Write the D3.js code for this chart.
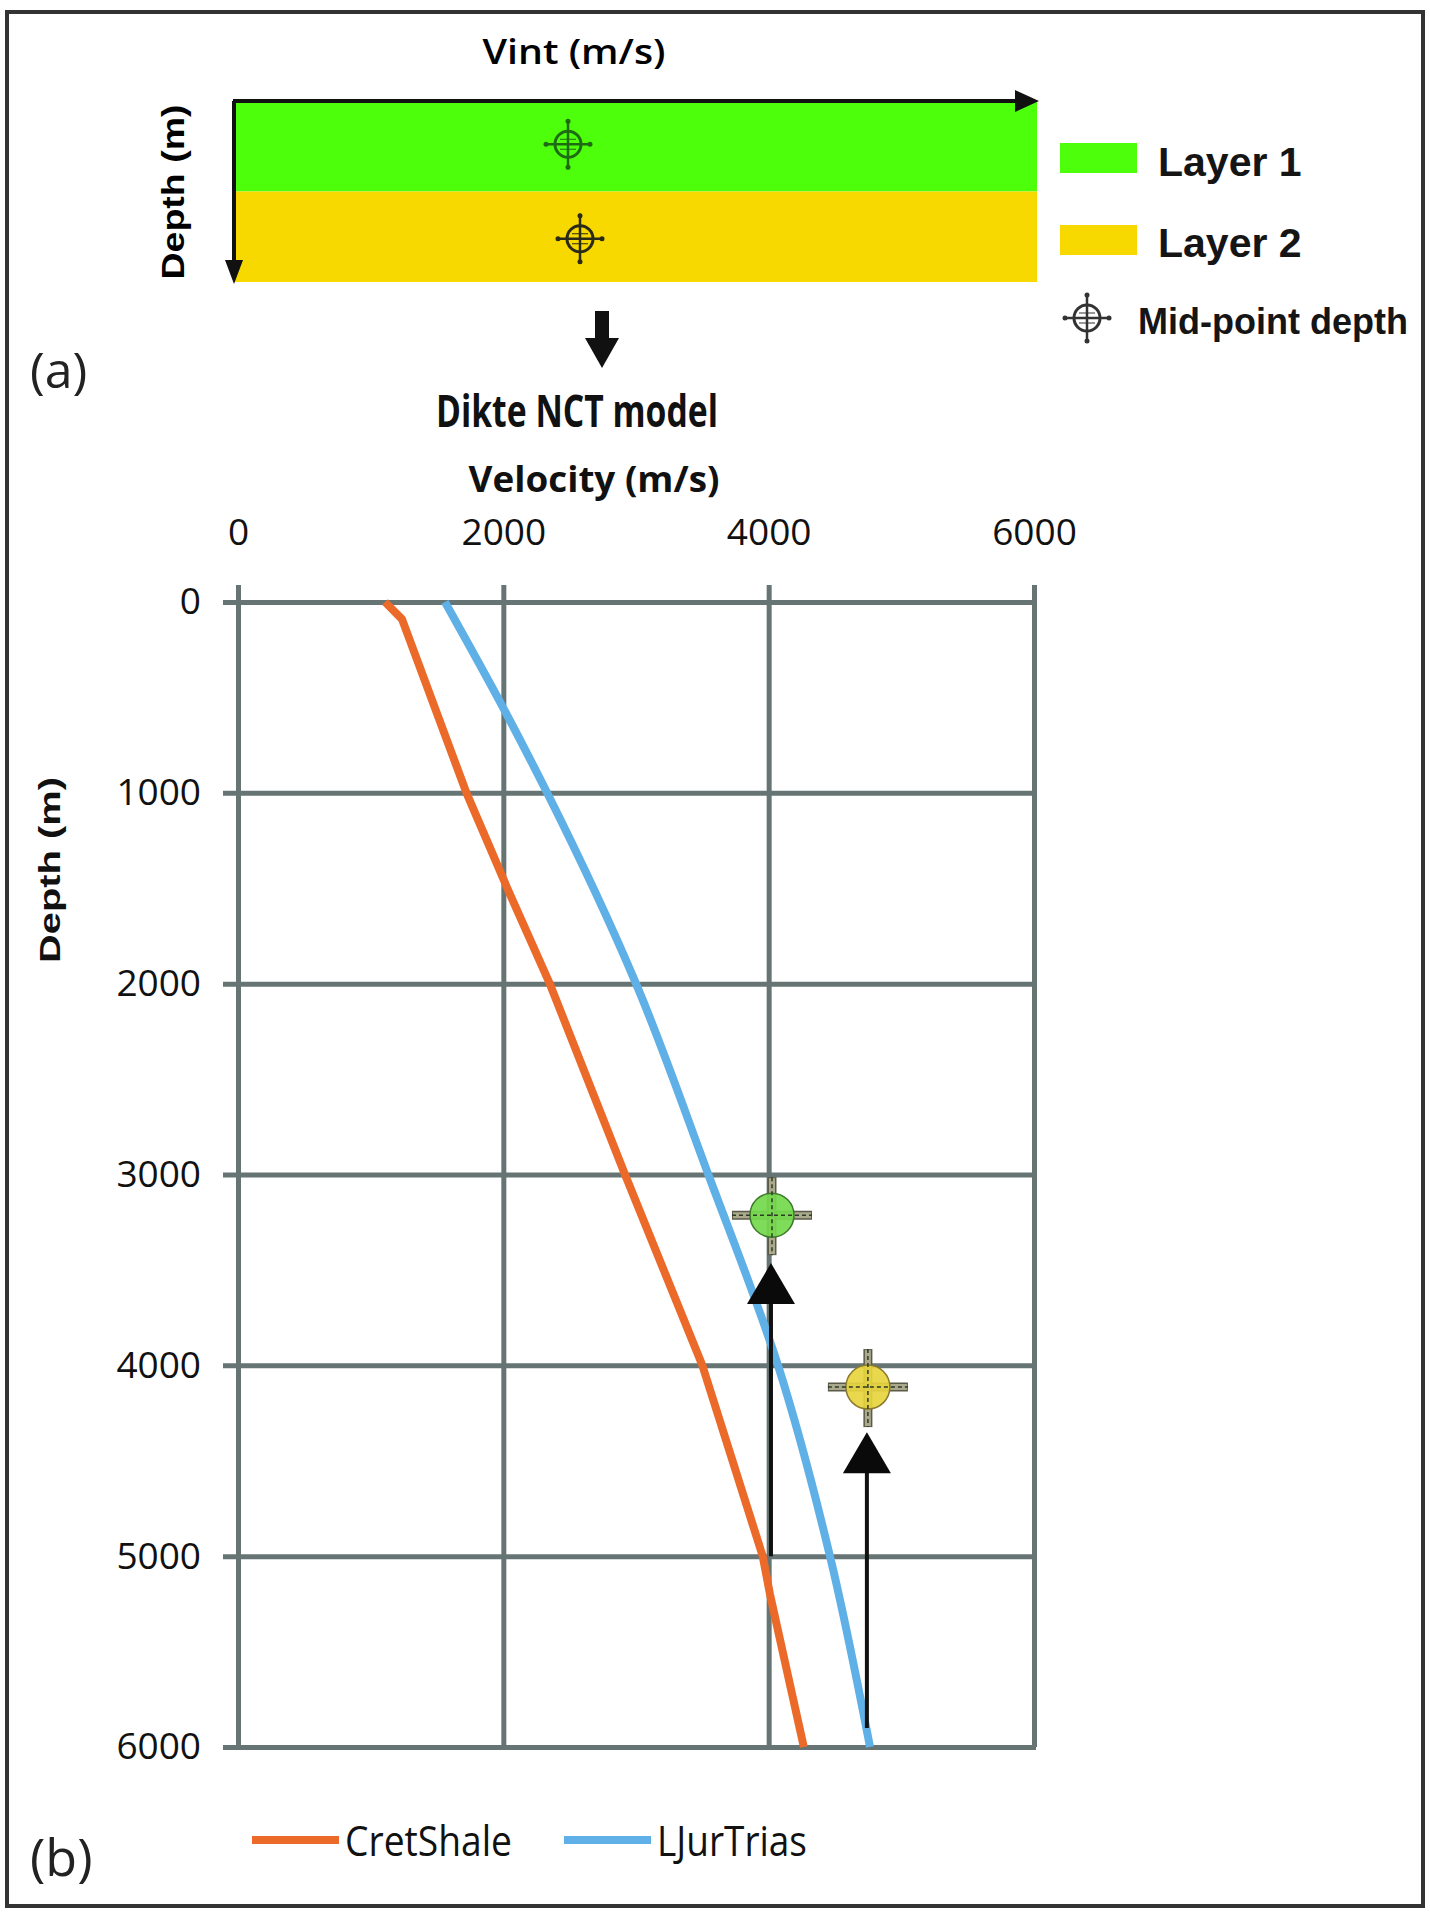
<!DOCTYPE html>
<html>
<head>
<meta charset="utf-8">
<script src="https://cdn.jsdelivr.net/npm/d3@7"></script>
<style>
  body { margin: 0; background: #fff; }
  svg { display: block; }
  .tick text { font-family: "Open Sans", sans-serif; font-size: 37px; fill: #111; }
</style>
</head>
<body>
<svg id="chart" width="1430" height="1912"></svg>
<script>
// ---- data ----
const velTicks = [0, 2000, 4000, 6000];
const depthTicks = [0, 1000, 2000, 3000, 4000, 5000, 6000];

const seriesNames = ['CretShale', 'LJurTrias'];
const cretDepth = [0, 90, 1000, 1500, 2000, 3000, 4000, 5000, 5200, 6000];
const cretVel = [1108, 1236, 1722, 2030, 2350, 2917, 3500, 3955, 4010, 4265];
const ljurDepth = [0, 556, 1000, 2000, 3000, 4000, 5000, 6000];
const ljurVel = [1560, 2000, 2330, 3000, 3545, 4070, 4462, 4764];

const layerNames = ['Layer 1', 'Layer 2'];
const midVel = [4025, 4748];
const midDepth = [3213, 4114];
const arrowFrom = [5000, 5900];
const arrowTo = [3464, 4350];

const COLORS = { green: '#4dff0a', yellow: '#f7d900', orange: '#eb6a2a', blue: '#5fb0e6', grid: '#667573' };

const svg = d3.select('#chart');

// frame
svg.append('rect')
  .attr('x', 7).attr('y', 12).attr('width', 1416).attr('height', 1894)
  .attr('fill', '#fff').attr('stroke', '#333').attr('stroke-width', 4);

// ================= (a) schematic =================
const panel = { left: 233, right: 1037, top: 101 };
const layerY = d3.scaleBand().domain(layerNames).range([101, 282]).padding(0);

svg.selectAll('.layer')
  .data(layerNames)
  .enter()
  .append('rect')
  .attr('class', 'layer')
  .attr('x', panel.left)
  .attr('y', d => layerY(d))
  .attr('width', panel.right - panel.left)
  .attr('height', layerY.bandwidth())
  .attr('fill', (d, i) => (i === 0 ? COLORS.green : COLORS.yellow));

// axes arrows of the schematic
svg.append('line')
  .attr('x1', panel.left).attr('x2', panel.right - 22)
  .attr('y1', panel.top).attr('y2', panel.top)
  .attr('stroke', '#111').attr('stroke-width', 4);
svg.append('path')
  .attr('d', `M${panel.right + 2},${panel.top} L${panel.right - 22},${panel.top - 11} L${panel.right - 22},${panel.top + 11} Z`)
  .attr('fill', '#111');
svg.append('line')
  .attr('x1', panel.left + 1).attr('x2', panel.left + 1)
  .attr('y1', panel.top).attr('y2', 262)
  .attr('stroke', '#111').attr('stroke-width', 4);
svg.append('path')
  .attr('d', `M${panel.left + 1},284 L${panel.left - 8},260 L${panel.left + 10},260 Z`)
  .attr('fill', '#111');

svg.append('text')
  .attr('x', 574).attr('y', 64)
  .attr('text-anchor', 'middle')
  .attr('textLength', 183).attr('lengthAdjust', 'spacingAndGlyphs')
  .style('font-family', '"Open Sans", sans-serif').style('font-weight', 600).style('font-size', '35px')
  .text('Vint (m/s)');

svg.append('text')
  .attr('transform', 'translate(184,192) rotate(-90)')
  .attr('text-anchor', 'middle')
  .attr('textLength', 175).attr('lengthAdjust', 'spacingAndGlyphs')
  .style('font-family', '"Liberation Sans", Arial, sans-serif').style('font-weight', 700).style('font-size', '31px')
  .text('Depth (m)');

function smallTarget(g, cx, cy, col) {
  g.append('circle').attr('cx', cx).attr('cy', cy).attr('r', 13)
    .attr('fill', 'none').attr('stroke', col).attr('stroke-width', 3);
  g.append('line').attr('x1', cx - 24).attr('x2', cx + 24).attr('y1', cy).attr('y2', cy)
    .attr('stroke', col).attr('stroke-width', 2.5);
  g.append('line').attr('x1', cx).attr('x2', cx).attr('y1', cy - 25).attr('y2', cy + 25)
    .attr('stroke', col).attr('stroke-width', 2.5);
  g.append('line').attr('x1', cx - 8).attr('x2', cx + 8).attr('y1', cy - 5).attr('y2', cy - 5)
    .attr('stroke', col).attr('stroke-width', 1);
  g.append('line').attr('x1', cx - 8).attr('x2', cx + 8).attr('y1', cy + 5).attr('y2', cy + 5)
    .attr('stroke', col).attr('stroke-width', 1);
  [[cx - 22, cy], [cx + 22, cy], [cx, cy - 23], [cx, cy + 23]].forEach(p => {
    g.append('circle').attr('cx', p[0]).attr('cy', p[1]).attr('r', 2.5).attr('fill', col);
  });
}
const schem = svg.append('g');
smallTarget(schem, 568, layerY(layerNames[0]) + layerY.bandwidth() / 2 - 2, '#1f6b14');
smallTarget(schem, 580, layerY(layerNames[1]) + layerY.bandwidth() / 2 + 2, '#2a2a18');

// legend (a)
const legA = svg.append('g');
legA.selectAll('rect')
  .data(layerNames)
  .enter()
  .append('rect')
  .attr('x', 1060)
  .attr('y', (d, i) => 143 + i * 82)
  .attr('width', 77)
  .attr('height', 30)
  .attr('fill', (d, i) => (i === 0 ? COLORS.green : COLORS.yellow));
legA.selectAll('text')
  .data(layerNames)
  .enter()
  .append('text')
  .attr('x', 1158)
  .attr('y', (d, i) => 176 + i * 81)
  .style('font-family', '"Liberation Sans", Arial, sans-serif').style('font-weight', 700).style('font-size', '41px')
  .style('fill', '#151515')
  .text(d => d);
smallTarget(legA, 1087, 318, '#333');
legA.append('text')
  .attr('x', 1138).attr('y', 334)
  .style('font-family', '"Liberation Sans", Arial, sans-serif').style('font-weight', 700).style('font-size', '36px')
  .style('fill', '#151515')
  .text('Mid-point depth');

// arrow between panels
svg.append('rect').attr('x', 595).attr('y', 311).attr('width', 14).attr('height', 30).attr('fill', '#111');
svg.append('path').attr('d', 'M585,338 L619,338 L602,368 Z').attr('fill', '#111');

svg.append('text')
  .attr('x', 30).attr('y', 388)
  .style('font-family', '"Open Sans", sans-serif').style('font-size', '50px').style('fill', '#222')
  .text('(a)');

svg.append('text')
  .attr('x', 577).attr('y', 427)
  .attr('text-anchor', 'middle')
  .attr('textLength', 282).attr('lengthAdjust', 'spacingAndGlyphs')
  .style('font-family', '"Open Sans", sans-serif').style('font-weight', 700).style('font-size', '44px')
  .style('fill', '#111')
  .text('Dikte NCT model');

// ================= (b) velocity-depth chart =================
const x = d3.scaleLinear().domain([0, 6000]).range([238, 1034]);
const y = d3.scaleLinear().domain([0, 6000]).range([602, 1747]);

const topAxis = svg.append('g')
  .attr('transform', `translate(0,${585})`)
  .call(d3.axisTop(x).tickValues(velTicks).tickSize(-(y(6000) - 585)).tickPadding(40).tickFormat(d3.format('d')));
topAxis.select('.domain').remove();
topAxis.selectAll('line').attr('stroke', COLORS.grid).attr('stroke-width', 5);

const leftAxis = svg.append('g')
  .attr('transform', `translate(${223},0)`)
  .call(d3.axisLeft(y).tickValues(depthTicks).tickSize(-(x(6000) - 223 + 2)).tickPadding(22).tickFormat(d3.format('d')));
leftAxis.select('.domain').remove();
leftAxis.selectAll('line').attr('stroke', COLORS.grid).attr('stroke-width', 5);

svg.append('text')
  .attr('x', 594).attr('y', 492)
  .attr('text-anchor', 'middle')
  .attr('textLength', 251).attr('lengthAdjust', 'spacingAndGlyphs')
  .style('font-family', '"Open Sans", sans-serif').style('font-weight', 700).style('font-size', '35px')
  .style('fill', '#111')
  .text('Velocity (m/s)');

svg.append('text')
  .attr('transform', 'translate(60,870) rotate(-90)')
  .attr('text-anchor', 'middle')
  .attr('textLength', 186).attr('lengthAdjust', 'spacingAndGlyphs')
  .style('font-family', '"Liberation Sans", Arial, sans-serif').style('font-weight', 700).style('font-size', '30px')
  .style('fill', '#111')
  .text('Depth (m)');

const line = d3.line().x(d => x(d[1])).y(d => y(d[0]));
const cretPts = d3.zip(cretDepth, cretVel);
const ljurPts = d3.zip(ljurDepth, ljurVel);

svg.append('path').datum(cretPts)
  .attr('d', line).attr('fill', 'none')
  .attr('stroke', COLORS.orange).attr('stroke-width', 8).attr('stroke-linejoin', 'round');
svg.append('path').datum(ljurPts)
  .attr('d', line.curve(d3.curveMonotoneY)).attr('fill', 'none')
  .attr('stroke', COLORS.blue).attr('stroke-width', 8).attr('stroke-linejoin', 'round');

// arrows up to the mid-point markers
const arrows = svg.append('g');
midVel.forEach((v, i) => {
  const ax = x(v) - 1;
  arrows.append('line')
    .attr('x1', ax).attr('x2', ax)
    .attr('y1', y(arrowFrom[i])).attr('y2', y(arrowTo[i]) + 38)
    .attr('stroke', '#111').attr('stroke-width', 4);
  arrows.append('path')
    .attr('d', `M${ax},${y(arrowTo[i])} L${ax - 24},${y(arrowTo[i]) + 41} L${ax + 24},${y(arrowTo[i]) + 41} Z`)
    .attr('fill', '#0a0a0a');
});

// mid-point markers
const fills = ['#74d94c', '#e7d43e'];
const rims = ['#3d7a2c', '#8a7a2c'];
const marks = svg.append('g');
midVel.forEach((v, i) => {
  const cx = x(v), cy = y(midDepth[i]);
  [[cx - 40, cy, cx + 40, cy], [cx, cy - 38, cx, cy + 40]].forEach(s => {
    marks.append('line').attr('x1', s[0]).attr('y1', s[1]).attr('x2', s[2]).attr('y2', s[3])
      .attr('stroke', '#5a5a48').attr('stroke-width', 9);
    marks.append('line').attr('x1', s[0] + (s[0] === s[2] ? 0 : 1)).attr('y1', s[1] + (s[1] === s[3] ? 0 : 1))
      .attr('x2', s[2] - (s[0] === s[2] ? 0 : 1)).attr('y2', s[3] - (s[1] === s[3] ? 0 : 1))
      .attr('stroke', '#aaa98c').attr('stroke-width', 6);
  });
  marks.append('circle').attr('cx', cx).attr('cy', cy).attr('r', 22)
    .attr('fill', fills[i]).attr('fill-opacity', 0.92)
    .attr('stroke', rims[i]).attr('stroke-width', 1.5);
  marks.append('line').attr('x1', cx - 40).attr('x2', cx + 40).attr('y1', cy).attr('y2', cy)
    .attr('stroke', '#2d3a24').attr('stroke-width', 1.5).attr('stroke-dasharray', '4,3');
  marks.append('line').attr('x1', cx).attr('x2', cx).attr('y1', cy - 38).attr('y2', cy + 40)
    .attr('stroke', '#2d3a24').attr('stroke-width', 1.5).attr('stroke-dasharray', '4,3');
});

// legend (b)
const legB = svg.append('g');
const legColors = [COLORS.orange, COLORS.blue];
const legX = [252, 564];
const legW = [167, 150];
seriesNames.forEach((name, i) => {
  legB.append('line')
    .attr('x1', legX[i]).attr('x2', legX[i] + 87)
    .attr('y1', 1840).attr('y2', 1840)
    .attr('stroke', legColors[i]).attr('stroke-width', 8);
  legB.append('text')
    .attr('x', legX[i] + 93).attr('y', 1856)
    .attr('textLength', legW[i]).attr('lengthAdjust', 'spacingAndGlyphs')
    .style('font-family', '"Open Sans", sans-serif').style('font-size', '42px').style('fill', '#111')
    .text(name);
});

svg.append('text')
  .attr('x', 30).attr('y', 1876)
  .style('font-family', '"Open Sans", sans-serif').style('font-size', '52px').style('fill', '#222')
  .text('(b)');
</script>
</body>
</html>
